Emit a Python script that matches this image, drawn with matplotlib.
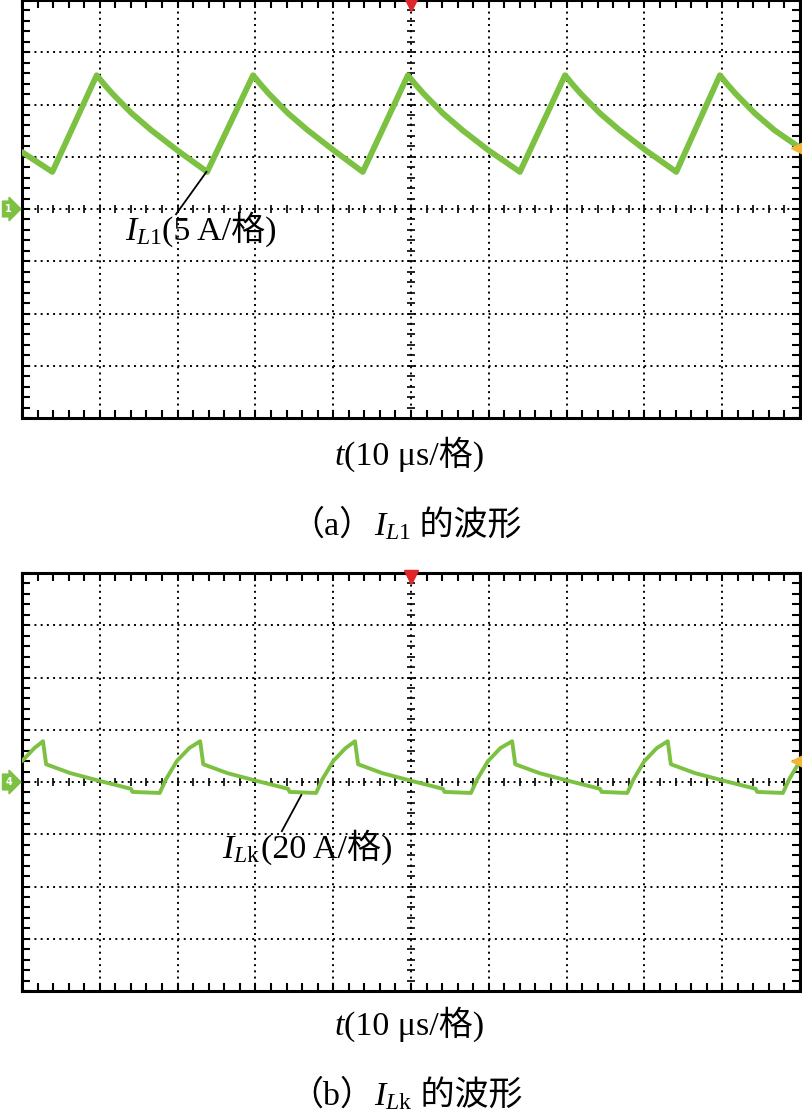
import numpy as np
import matplotlib
matplotlib.use('Agg')
from matplotlib import pyplot as plt
from matplotlib.transforms import IdentityTransform

W, H = 802, 1112

# (a) I_L1 trace, x in divisions (10 us/div), y in divisions (5 A/div) from ground marker
ia_t = [0.00, 0.39,
        0.96, 1.06, 1.16, 1.41, 1.66, 1.99, 2.38,
        2.97, 3.07, 3.17, 3.42, 3.67, 4.00, 4.38,
        4.96, 5.06, 5.16, 5.41, 5.66, 5.99, 6.40,
        6.98, 7.08, 7.18, 7.43, 7.68, 8.01, 8.41,
        8.97, 9.07, 9.17, 9.42, 9.67, 10.00]
ia_v = [1.09, 0.71,
        2.56, 2.38, 2.21, 1.83, 1.51, 1.13, 0.71,
        2.56, 2.38, 2.21, 1.83, 1.51, 1.13, 0.71,
        2.56, 2.38, 2.21, 1.83, 1.51, 1.13, 0.71,
        2.56, 2.38, 2.21, 1.83, 1.51, 1.13, 0.71,
        2.56, 2.38, 2.21, 1.83, 1.51, 1.17]

# (b) I_Lk trace, y in divisions (20 A/div)
ib_t = [0.00, 0.16, 0.27,
        0.31, 0.62, 1.00, 1.40, 1.42, 1.77, 1.85, 1.99, 2.15, 2.29,
        2.33, 2.64, 3.02, 3.42, 3.44, 3.78, 3.86, 4.00, 4.16, 4.28,
        4.32, 4.63, 5.01, 5.41, 5.43, 5.77, 5.85, 5.99, 6.15, 6.30,
        6.34, 6.65, 7.03, 7.43, 7.45, 7.78, 7.86, 8.00, 8.16, 8.30,
        8.34, 8.65, 9.03, 9.43, 9.45, 9.78, 9.86, 10.00]
ib_v = [0.40, 0.65, 0.78,
        0.34, 0.17, 0.02, -0.13, -0.19, -0.21, 0.05, 0.40, 0.65, 0.78,
        0.34, 0.17, 0.02, -0.13, -0.19, -0.21, 0.05, 0.40, 0.65, 0.78,
        0.34, 0.17, 0.02, -0.13, -0.19, -0.21, 0.05, 0.40, 0.65, 0.78,
        0.34, 0.17, 0.02, -0.13, -0.19, -0.21, 0.05, 0.40, 0.65, 0.78,
        0.34, 0.17, 0.02, -0.13, -0.19, -0.21, 0.05, 0.40]

trig_a = 1.17
trig_b = 0.40

GREEN = '#7cc142'
SERIF = ['Liberation Serif', 'Noto Sans CJK SC']

plt.rcParams['mathtext.fontset'] = 'custom'
plt.rcParams['mathtext.rm'] = 'Liberation Serif'
plt.rcParams['mathtext.it'] = 'Liberation Serif:italic'

fig = plt.figure(figsize=(W / 100, H / 100), dpi=100)


def rich(x, y, parts, ha='left', size=24.5):
    # x, y in pixels from top-left, y is the baseline
    r = fig.canvas.get_renderer()
    items = []
    cx = 0
    for s, kw in parts:
        kw = dict(kw)
        kw.setdefault('family', SERIF)
        t = fig.text(0, 0, s, transform=IdentityTransform(), va='baseline',
                     ha='left', fontsize=size, **kw)
        w = t.get_window_extent(r).width
        items.append((t, cx))
        cx += w
    x0 = x - cx / 2 if ha == 'center' else x
    for t, off in items:
        t.set_position((x0 + off, H - y))


def scope(top_px, t, v, lw, chan, trig):
    left, right, bot = 22, 800, top_px + 418
    ax = fig.add_axes([left / W, 1 - bot / H, (right - left) / W, 418 / H])
    ax.set_xlim(0, 10)
    ax.set_ylim(-4, 4)
    ax.plot(t, v, color=GREEN, lw=lw, solid_joinstyle='round',
            solid_capstyle='round', zorder=3)
    dots = (0, (1, 2.2))
    for gx in range(1, 10):
        ax.axvline(gx, color='k', lw=1.4, ls=dots, zorder=1)
    for gy in range(-3, 4):
        ax.axhline(gy, color='k', lw=1.4, ls=dots, zorder=1)
    # cross ticks on the centre lines
    fine = np.arange(0.2, 10, 0.2)
    ax.vlines(fine, -0.08, 0.08, color='k', lw=1.2, zorder=2)
    fine_y = np.arange(-3.8, 4, 0.2)
    ax.hlines(fine_y, 5 - 0.055, 5 + 0.055, color='k', lw=1.2, zorder=2)
    ax.set_xticks(np.arange(0, 10.01, 0.2))
    ax.set_yticks(np.arange(-4, 4.01, 0.2))
    ax.tick_params(direction='in', length=6, width=1.5, top=True, right=True,
                   labelbottom=False, labelleft=False)
    for s in ax.spines.values():
        s.set_linewidth(2.2)
    # scope markers
    ax.plot(5, 3.93, marker='v', color='#e0262b', ms=10, clip_on=False, zorder=5)
    ax.plot(9.98, trig, marker='<', color='#f2b53a', ms=10, clip_on=False, zorder=5)
    ax.text(-0.17, 0, chan, color='white', fontsize=7, fontweight='bold',
            ha='center', va='center', zorder=5, clip_on=False,
            bbox=dict(boxstyle='rarrow,pad=0.3', fc=GREEN, ec=GREEN))
    return ax


ax_a = scope(0, ia_t, ia_v, 4.2, '1', trig_a)
ax_a.plot([1.98, 2.37], [-0.10, 0.71], color='k', lw=1.3, zorder=4)

ax_b = scope(573, ib_t, ib_v, 2.8, '4', trig_b)
ax_b.plot([3.34, 3.59], [-0.94, -0.25], color='k', lw=1.3, zorder=4)

it = dict(style='italic')
rich(125, 240, [('$I_{L1}$', {}), ('(5 A/格)', {})])
rich(409, 465, [('t', it), ('(10 μs/格)', {})], ha='center')
rich(406, 535, [('（a）', {}), ('$I_{L1}$', {}), (' 的波形', {})], ha='center')

rich(222, 858, [('$I_{L\\mathrm{k}}$', {}), ('(20 A/格)', {})])
rich(409, 1035, [('t', it), ('(10 μs/格)', {})], ha='center')
rich(406, 1105, [('（b）', {}), ('$I_{L\\mathrm{k}}$', {}), (' 的波形', {})], ha='center')

fig.savefig('out.png', dpi=100)
